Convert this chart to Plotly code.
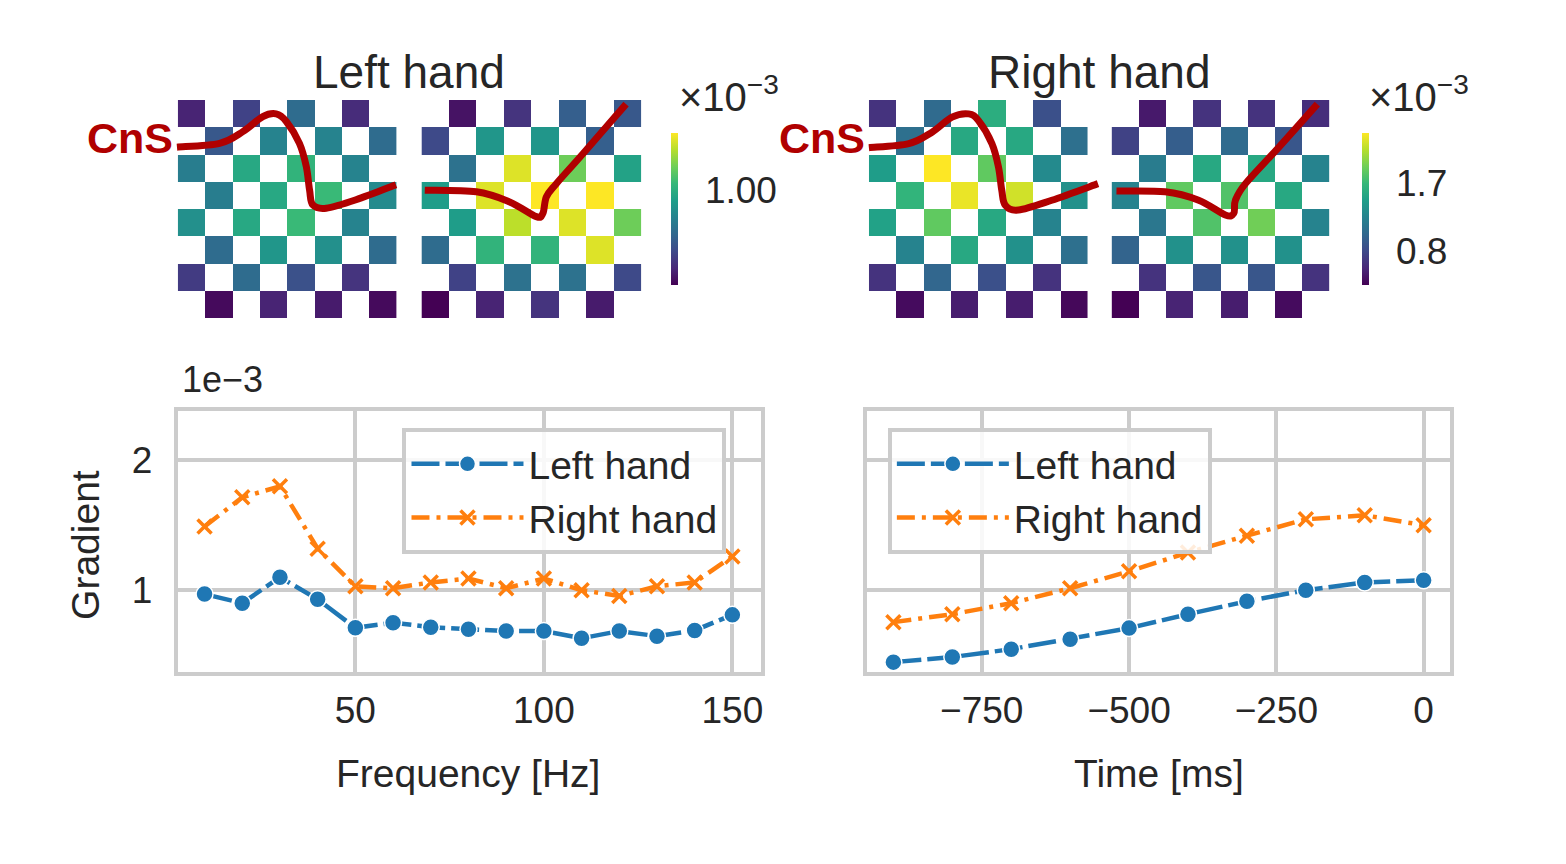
import plotly.graph_objects as go

OFF = 8  # page body margin
W, H = 1566 - 2 * OFF, 864 - 2 * OFF

# ---------------- data ----------------
FREQ_HZ = [10, 20, 30, 40, 50, 60, 70, 80, 90, 100, 110, 120, 130, 140, 150]
FREQ_LEFT = [0.97, 0.90, 1.10, 0.93, 0.71, 0.75, 0.715, 0.70, 0.685, 0.685, 0.63, 0.685, 0.646, 0.69, 0.81]
FREQ_RIGHT = [1.49, 1.715, 1.80, 1.32, 1.03, 1.015, 1.06, 1.09, 1.015, 1.09, 1.00, 0.955, 1.03, 1.06, 1.26]

TIME_MS = [-900, -800, -700, -600, -500, -400, -300, -200, -100, 0]
TIME_LEFT = [0.446, 0.485, 0.546, 0.623, 0.708, 0.815, 0.915, 1.00, 1.06, 1.077]
TIME_RIGHT = [0.754, 0.815, 0.90, 1.015, 1.146, 1.29, 1.42, 1.546, 1.577, 1.50]

# electrode grids (x1e-3), 8 rows x 4 filled cells (checkerboard)
LEFT_GRID_A = [
    [0.58, 0.66, 0.78, 0.60],
    [0.72, 0.86, 0.86, 0.78],
    [0.84, 0.98, 1.02, 0.86],
    [0.84, 0.98, 1.04, 0.88],
    [0.90, 0.98, 1.04, 0.86],
    [0.78, 0.92, 0.90, 0.78],
    [0.64, 0.78, 0.70, 0.62],
    [0.52, 0.58, 0.56, 0.52],
]
LEFT_GRID_B = [
    [0.54, 0.62, 0.74, 0.72],
    [0.68, 0.92, 0.92, 0.74],
    [0.80, 1.26, 1.12, 0.96],
    [0.94, 1.26, 1.30, 1.30],
    [0.94, 1.22, 1.26, 1.12],
    [0.78, 1.02, 1.02, 1.26],
    [0.66, 0.80, 0.80, 0.68],
    [0.50, 0.58, 0.62, 0.56],
]
RIGHT_GRID_A = [
    [0.65, 1.05, 1.60, 0.85],
    [1.09, 1.56, 1.56, 1.09],
    [1.46, 2.36, 1.86, 1.31],
    [1.66, 2.30, 2.22, 1.36],
    [1.50, 1.86, 1.56, 1.25],
    [1.25, 1.56, 1.36, 1.09],
    [0.65, 1.01, 0.85, 0.65],
    [0.41, 0.51, 0.51, 0.39],
]
RIGHT_GRID_B = [
    [0.49, 0.65, 0.65, 0.61],
    [0.75, 0.95, 1.05, 0.89],
    [1.19, 1.56, 1.56, 1.25],
    [1.25, 1.86, 1.80, 1.56],
    [1.15, 1.80, 1.92, 1.25],
    [0.99, 1.36, 1.36, 1.36],
    [0.65, 0.89, 0.89, 0.65],
    [0.35, 0.55, 0.51, 0.41],
]
LEFT_CRANGE = [0.5, 1.3]
RIGHT_CRANGE = [0.35, 2.36]
LEFT_CTICKS = [1.0]
LEFT_CTICKTEXT = ["1.00"]
RIGHT_CTICKS = [0.8, 1.7]
RIGHT_CTICKTEXT = ["0.8", "1.7"]

FREQ_TICKS = [50, 100, 150]
TIME_TICKS = [-750, -500, -250, 0]
TIME_TICKTEXT = ["\u2212750", "\u2212500", "\u2212250", "0"]
Y_TICKS = [1, 2]

# hand-drawn "CnS" annotation curves, in heatmap cell units
LEFT_CURVE_A = [(-0.53, 1.23), (1.03, 1.09), (1.88, 0.66), (2.61, 0.11), (3.10, 0.01), (3.47, 0.29),
                (3.95, 1.09), (4.20, 1.94), (4.32, 2.80), (4.44, 3.35), (4.93, 3.47), (6.02, 3.16), (7.48, 2.61)]
LEFT_CURVE_B = [(-0.38, 2.81), (1.50, 2.87), (2.71, 3.24), (3.68, 3.78), (3.92, 3.66), (4.05, 3.05),
                (4.41, 2.57), (5.38, 1.47), (6.95, -0.35)]
RIGHT_CURVE_A = [(-0.5, 1.25), (0.96, 1.10), (1.81, 0.68), (2.54, 0.13), (3.15, 0.01), (3.51, 0.26),
                 (4.0, 1.10), (4.24, 1.96), (4.36, 2.81), (4.49, 3.36), (4.97, 3.54), (6.19, 3.18), (7.88, 2.57)]
RIGHT_CURVE_B = [(-0.32, 2.84), (1.47, 2.87), (2.70, 3.18), (3.68, 3.72), (3.99, 3.66), (4.05, 3.18),
                 (4.42, 2.57), (5.65, 1.23), (7.06, -0.35)]

# ---------------- style ----------------
FONT = "Liberation Sans"
TXT = "#262626"
GRIDC = "#cccccc"
BLUE = "#1f77b4"
ORANGE = "#ff7f0e"
CNS_RED = "#b00000"


def px(x):
    return (x - OFF) / W


def py(y):
    return 1 - (y - OFF) / H


def dom_x(a, b):
    return [px(a), px(b)]


def dom_y(top, bottom):
    return [py(bottom), py(top)]


def grid_to_z(rows, parity):
    z = []
    for r, vals in enumerate(rows):
        it = iter(vals)
        row = []
        for c in range(8):
            row.append(next(it) if (r + c) % 2 == parity else None)
        z.append(row)
    return z


fig = go.Figure()

BLUE_LINE = dict(color=BLUE, width=4.5, dash="28px,6px")
BLUE_MARK = dict(symbol="circle", size=17, color=BLUE, line=dict(color="white", width=1.5))
OR_LINE = dict(color=ORANGE, width=4.5, dash="18px,7px,4px,7px")
OR_MARK = dict(symbol="x-thin", size=14, color=ORANGE, line=dict(color=ORANGE, width=3.5))

fig.add_trace(go.Scatter(x=FREQ_HZ, y=FREQ_LEFT, name="Left hand", mode="lines+markers",
                         line=BLUE_LINE, marker=BLUE_MARK, xaxis="x", yaxis="y", legend="legend"))
fig.add_trace(go.Scatter(x=FREQ_HZ, y=FREQ_RIGHT, name="Right hand", mode="lines+markers",
                         line=OR_LINE, marker=OR_MARK, xaxis="x", yaxis="y", legend="legend"))
fig.add_trace(go.Scatter(x=TIME_MS, y=TIME_LEFT, name="Left hand", mode="lines+markers",
                         line=BLUE_LINE, marker=BLUE_MARK, xaxis="x2", yaxis="y2", legend="legend2"))
fig.add_trace(go.Scatter(x=TIME_MS, y=TIME_RIGHT, name="Right hand", mode="lines+markers",
                         line=OR_LINE, marker=OR_MARK, xaxis="x2", yaxis="y2", legend="legend2"))

# heatmaps
for grid, parity, ax, cax in [(LEFT_GRID_A, 0, "3", "coloraxis"), (LEFT_GRID_B, 1, "4", "coloraxis"),
                              (RIGHT_GRID_A, 0, "5", "coloraxis2"), (RIGHT_GRID_B, 1, "6", "coloraxis2")]:
    fig.add_trace(go.Heatmap(z=grid_to_z(grid, parity), coloraxis=cax, xaxis="x" + ax, yaxis="y" + ax,
                             hoverongaps=False, showlegend=False))

HM_DOMS = {
    "3": (dom_x(178, 397), dom_y(100, 318)),
    "4": (dom_x(422, 642), dom_y(100, 318)),
    "5": (dom_x(870, 1089), dom_y(100, 318)),
    "6": (dom_x(1113, 1331), dom_y(100, 318)),
}

axis_common = dict(showline=True, linecolor=GRIDC, linewidth=4, mirror=True,
                   showgrid=True, gridcolor=GRIDC, gridwidth=3.5, zeroline=False,
                   ticks="outside", tickcolor="rgba(0,0,0,0)",
                   tickfont=dict(family=FONT, size=37, color=TXT))

cbar_common = dict(xanchor="left", y=py(209), yanchor="middle",
                   len=152, lenmode="pixels", thickness=7, thicknessmode="pixels",
                   outlinewidth=0, xpad=0, ypad=0, ticks="outside", ticklen=20,
                   tickcolor="rgba(0,0,0,0)", tickfont=dict(family=FONT, size=37, color=TXT))

legend_common = dict(y=py(428), xanchor="left", yanchor="top", bgcolor="rgba(255,255,255,0.85)",
                     bordercolor=GRIDC, borderwidth=4, font=dict(family=FONT, size=39, color=TXT),
                     itemwidth=112, tracegroupgap=0)

layout = dict(
    width=W, height=H, margin=dict(l=0, r=0, t=0, b=0),
    paper_bgcolor="white", plot_bgcolor="white",
    font=dict(family=FONT, color=TXT),
    xaxis=dict(domain=dom_x(178, 762), anchor="y", range=[2.9, 157.6], tickvals=FREQ_TICKS,
               ticklen=3, **axis_common),
    yaxis=dict(domain=dom_y(411, 672), anchor="x", range=[0.37, 2.38], tickvals=Y_TICKS,
               ticklen=14, **axis_common),
    xaxis2=dict(domain=dom_x(868, 1452), anchor="y2", range=[-945, 45], tickvals=TIME_TICKS,
                ticktext=TIME_TICKTEXT, ticklen=3, **axis_common),
    yaxis2=dict(domain=dom_y(411, 672), anchor="x2", range=[0.37, 2.38], tickvals=Y_TICKS,
                showticklabels=False, ticklen=14, **axis_common),
    coloraxis=dict(colorscale="Viridis", cmin=LEFT_CRANGE[0], cmax=LEFT_CRANGE[1],
                   colorbar=dict(x=px(672), tickvals=LEFT_CTICKS, ticktext=LEFT_CTICKTEXT, **cbar_common)),
    coloraxis2=dict(colorscale="Viridis", cmin=RIGHT_CRANGE[0], cmax=RIGHT_CRANGE[1],
                    colorbar=dict(x=px(1364), tickvals=RIGHT_CTICKS, ticktext=RIGHT_CTICKTEXT, **cbar_common)),
    legend=dict(x=px(403), **legend_common),
    legend2=dict(x=px(889), **legend_common),
)
for k, (dx, dy) in HM_DOMS.items():
    layout["xaxis" + k] = dict(domain=dx, anchor="y" + k, range=[-0.5, 7.5], visible=False)
    layout["yaxis" + k] = dict(domain=dy, anchor="x" + k, range=[7.5, -0.5], visible=False)
fig.update_layout(**layout)


def curve_path(points, key):
    dx, dy = HM_DOMS[key]
    pts = [(dx[0] + (cx + 0.5) / 8 * (dx[1] - dx[0]), dy[1] - (cy + 0.5) / 8 * (dy[1] - dy[0])) for cx, cy in points]
    d = "M %.5f,%.5f" % pts[0]
    for i in range(len(pts) - 1):
        p0 = pts[i - 1] if i > 0 else pts[i]
        p1, p2 = pts[i], pts[i + 1]
        p3 = pts[i + 2] if i + 2 < len(pts) else pts[i + 1]
        c1 = (p1[0] + (p2[0] - p0[0]) / 6, p1[1] + (p2[1] - p0[1]) / 6)
        c2 = (p2[0] - (p3[0] - p1[0]) / 6, p2[1] - (p3[1] - p1[1]) / 6)
        d += " C %.5f,%.5f %.5f,%.5f %.5f,%.5f" % (c1 + c2 + p2)
    return d


for pts, key in [(LEFT_CURVE_A, "3"), (LEFT_CURVE_B, "4"), (RIGHT_CURVE_A, "5"), (RIGHT_CURVE_B, "6")]:
    fig.add_shape(type="path", path=curve_path(pts, key), xref="paper", yref="paper",
                  line=dict(color=CNS_RED, width=7), layer="above")


def ann(text, x, y, size, **kw):
    fig.add_annotation(text=text, x=px(x), y=py(y), xref="paper", yref="paper", showarrow=False,
                       xanchor=kw.pop("xanchor", "center"), yanchor=kw.pop("yanchor", "middle"),
                       font=dict(family=FONT, size=size, color=kw.pop("color", TXT)), **kw)


ann("Left hand", 409.5, 72, 46)
ann("Right hand", 1101, 72, 46)
ann("<b>CnS</b>", 130, 138, 43, color=CNS_RED)
ann("<b>CnS</b>", 823, 138, 43, color=CNS_RED)
ann("\u00d710<sup>\u22123</sup>", 730, 94, 40)
ann("\u00d710<sup>\u22123</sup>", 1421, 94, 40)
ann("1e\u22123", 223, 380, 36)
ann("Gradient", 85, 545, 39, textangle=-90)
ann("Frequency [Hz]", 469, 773, 39)
ann("Time [ms]", 1160, 773, 39)

fig.write_html("out.html")
